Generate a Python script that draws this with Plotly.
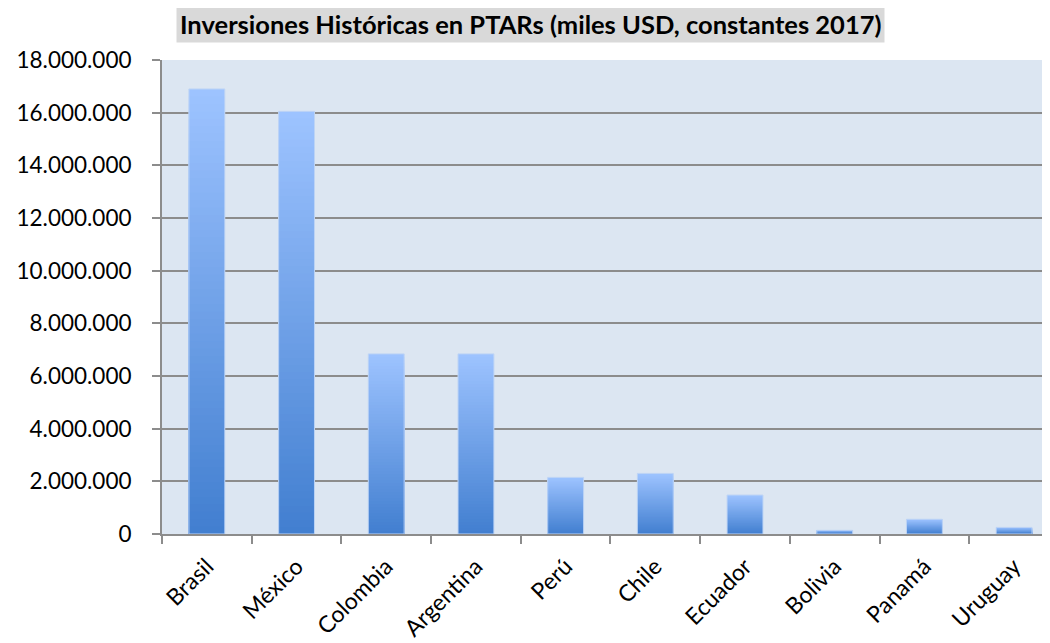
import plotly.graph_objects as go

categories = ["Brasil", "México", "Colombia", "Argentina", "Perú", "Chile",
              "Ecuador", "Bolivia", "Panamá", "Uruguay"]
values = [16900000, 16050000, 6840000, 6840000, 2150000, 2300000,
          1480000, 140000, 560000, 250000]
y_ticks = [0, 2000000, 4000000, 6000000, 8000000, 10000000, 12000000,
           14000000, 16000000, 18000000]
title_text = "Inversiones Históricas en PTARs (miles USD, constantes 2017)"

TOP = (157, 195, 255)
BOT = (66, 127, 208)
N = 60

fig = go.Figure()
# gradient built by overlaying progressively shorter bars (light top -> dark bottom)
for i in range(N):
    frac = (N - i) / N
    t = i / (N - 1)
    c = tuple(round(TOP[k] + (BOT[k] - TOP[k]) * t) for k in range(3))
    fig.add_trace(go.Bar(
        x=categories, y=[v * frac for v in values], width=0.4,
        marker=dict(color="rgb(%d,%d,%d)" % c, line=dict(width=0)),
        hoverinfo="skip", showlegend=False))
# outline
fig.add_trace(go.Bar(
    x=categories, y=values, width=0.4,
    marker=dict(color="rgba(0,0,0,0)", line=dict(width=1, color="rgb(190,212,245)")),
    hoverinfo="skip", showlegend=False))

fig.update_layout(
    width=1050, height=643,
    barmode="overlay",
    separators=",.",
    paper_bgcolor="white",
    plot_bgcolor="#DCE6F2",
    margin=dict(l=152, r=8, t=52, b=117),
    font=dict(family="Lato, sans-serif", color="#000000"),
    xaxis=dict(
        type="category", range=[-0.5, 9.4],
        showline=True, linecolor="#8C8C8C", linewidth=2,
        ticks="outside", tickson="boundaries", ticklen=8, tickcolor="#8C8C8C", tickwidth=1.5,
        tickangle=-45, tickfont=dict(size=23, color="#000000"),
        ticklabelstandoff=8,
        showgrid=False),
    yaxis=dict(
        range=[0, 18000000], tickvals=y_ticks, tickformat=",d",
        showline=True, linecolor="#8C8C8C", linewidth=2,
        ticks="outside", ticklen=8, tickcolor="#8C8C8C", tickwidth=1.5,
        showgrid=True, gridcolor="#8C8C8C", gridwidth=1.5,
        zeroline=False,
        tickfont=dict(size=22.5, color="#000000"), ticklabelstandoff=16),
    annotations=[dict(
        text="<b>" + title_text + "</b>", xref="paper", yref="paper",
        x=0.4146, y=1.0, xanchor="center", yanchor="bottom", yshift=17,
        showarrow=False, bgcolor="#D9D9D9", borderpad=3,
        font=dict(size=25.5, color="#000000", family="Lato, sans-serif"))],
)

fig.write_html("out.html")
